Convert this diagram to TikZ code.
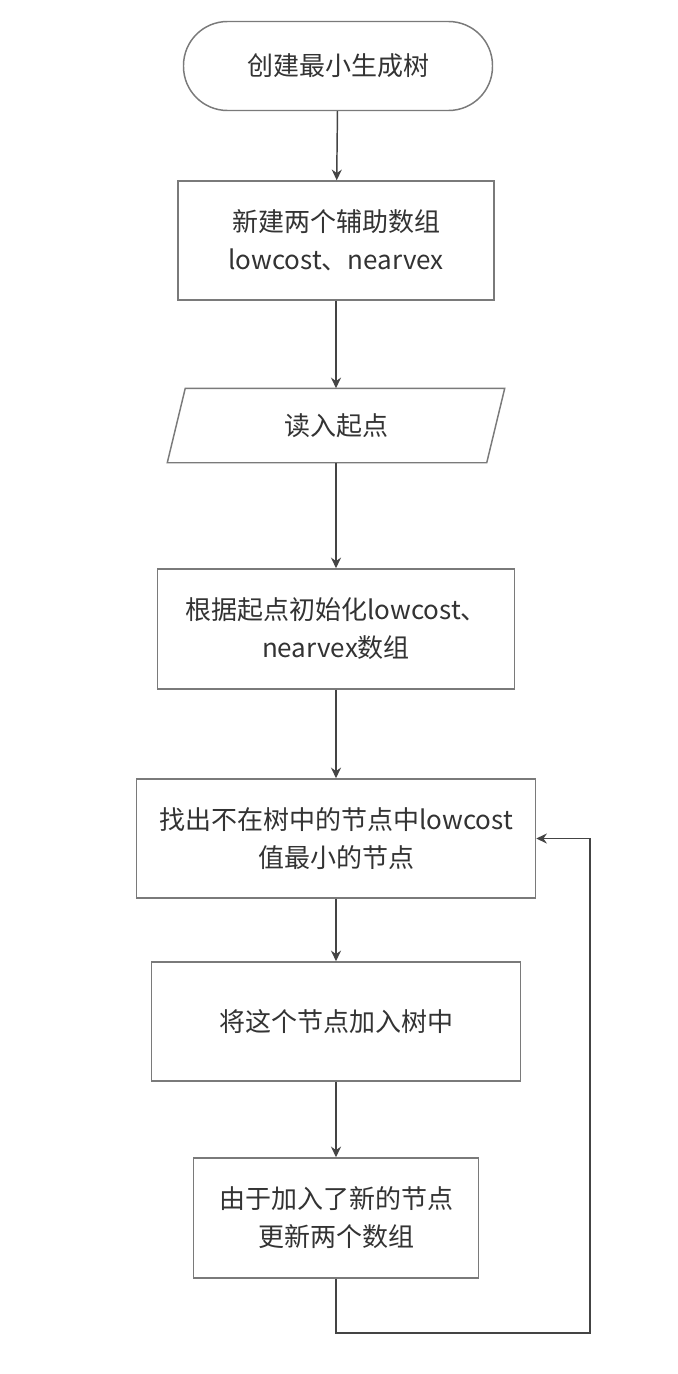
\documentclass[tikz,border=0pt]{standalone}
\usepackage{fontspec}
\setmainfont{Noto Sans CJK SC}
\usetikzlibrary{arrows.meta}

\definecolor{linegray}{HTML}{444444}
\definecolor{boxgray}{HTML}{7A7A7A}
\definecolor{textgray}{HTML}{333333}

\tikzset{
  procbox/.style={draw=boxgray, line width=1.1pt, fill=white, align=center,
    text=textgray, font=\fontsize{19.5}{28.5}\selectfont, inner sep=0pt},
  startstop/.style={procbox, rounded corners=33pt},
  flowarrow/.style={draw=linegray, line width=1.1pt, -{Stealth[length=8pt,width=7.5pt]}}
}

\begin{document}
\begin{tikzpicture}[x=0.75pt, y=0.75pt]
  \useasboundingbox (0,0) rectangle (678,-1374);
  \fill[white] (0,0) rectangle (678,-1374);
  \node[startstop, minimum width=231.75pt, minimum height=66.75pt] (start) at (338,-66) {创建最小生成树};
  \node[procbox, minimum width=237pt, minimum height=89.25pt] (newarr) at (336,-240.5) {新建两个辅助数组\\lowcost、nearvex};
  \node[procbox, draw=none, minimum width=238.5pt, minimum height=54.75pt] (input) at (336,-425.5) {读入起点};
  \draw[boxgray, line width=1.1pt] ([xshift=6.75pt]input.north west) -- ([xshift=6.75pt]input.north east)
    -- ([xshift=-6.75pt]input.south east) -- ([xshift=-6.75pt]input.south west) -- cycle;
  \node[procbox, minimum width=267.75pt, minimum height=90pt] (init) at (336,-629) {根据起点初始化lowcost、\\nearvex数组};
  \node[procbox, minimum width=299.25pt, minimum height=89.25pt] (find) at (336,-838.5) {找出不在树中的节点中lowcost\\值最小的节点};
  \node[procbox, minimum width=276.75pt, minimum height=89.25pt] (join) at (336,-1021.5) {将这个节点加入树中};
  \node[procbox, minimum width=213.75pt, minimum height=90pt] (update) at (336,-1218) {由于加入了新的节点\\更新两个数组};
  \coordinate (loopcorner) at (590,-1333);

  \draw[flowarrow] (start) -- (newarr);
  \draw[flowarrow] (newarr) -- (input.north);
  \draw[flowarrow] (input.south) -- (init);
  \draw[flowarrow] (init) -- (find);
  \draw[flowarrow] (find) -- (join);
  \draw[flowarrow] (join) -- (update);
  \draw[flowarrow] (update.south) |- (loopcorner) |- (find.east);
\end{tikzpicture}
\end{document}
